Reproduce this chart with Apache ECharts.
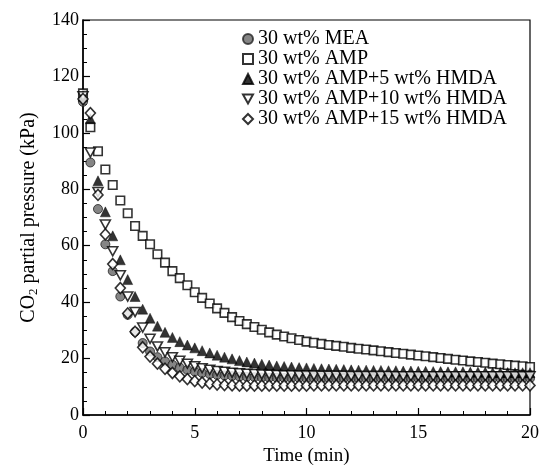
<!DOCTYPE html>
<html><head><meta charset="utf-8">
<script src="https://cdn.jsdelivr.net/npm/echarts/dist/echarts.min.js"></script>
<style>html,body{margin:0;padding:0;background:#fff}#c{width:550px;height:476px}</style>
</head><body><div id="c"></div>
<script>
const times = [0,0.33,0.67,1,1.33,1.67,2,2.33,2.67,3,3.33,3.67,4,4.33,4.67,5,5.33,5.67,6,6.33,6.67,7,7.33,7.67,8,8.33,8.67,9,9.33,9.67,10,10.33,10.67,11,11.33,11.67,12,12.33,12.67,13,13.33,13.67,14,14.33,14.67,15,15.33,15.67,16,16.33,16.67,17,17.33,17.67,18,18.33,18.67,19,19.33,19.67,20];
const seriesNames = ['30 wt% MEA','30 wt% AMP','30 wt% AMP+5 wt% HMDA','30 wt% AMP+10 wt% HMDA','30 wt% AMP+15 wt% HMDA'];
const mea = [111,89.5,73,60.5,51,42,35.5,29.5,25.5,22.5,20.5,19,17.8,16.8,16,15.4,14.9,14.5,14.2,14,13.8,13.6,13.5,13.4,13.3,13.2,13.2,13.1,13.1,13.1,13,13,13,13,12.9,13,13,13,12.9,13,13,13,13,12.9,13,13,13,13,12.9,13,13,13,13,12.9,13,13,13,13,12.9,13,13];
const amp = [114,102,93.5,87,81.5,76,71.5,67,63.5,60.5,57,54,51,48.5,46,43.5,41.5,39.5,37.8,36.2,34.7,33.3,32.2,31.2,30.2,29.3,28.5,27.8,27.2,26.6,26,25.6,25.2,24.8,24.5,24.2,23.8,23.5,23.2,22.9,22.6,22.3,22,21.7,21.4,21.1,20.8,20.5,20.2,19.9,19.6,19.3,19,18.8,18.5,18.2,18,17.7,17.5,17.3,17];
const hmda5 = [113,105,83,72,63.5,55,48,42,37.5,34.3,31.5,29.3,27.5,26,24.8,23.8,22.8,22,21.2,20.5,19.9,19.3,18.8,18.4,18,17.7,17.4,17.2,17,16.8,16.7,16.5,16.4,16.3,16.2,16.1,16,15.9,15.9,15.8,15.8,15.7,15.7,15.6,15.6,15.5,15.5,15.4,15.4,15.3,15.3,15.3,15.2,15.2,15.2,15.1,15.1,15.1,15,15,15];
const hmda10 = [113,93,79,67.5,58,49.5,42,36.5,31,27,24.3,22.2,20.5,19.2,18.2,17.3,16.6,16,15.6,15.3,15,14.8,14.6,14.5,14.4,14.3,14.2,14.1,14.1,14,14,14,13.9,13.9,13.9,13.9,13.8,13.8,13.8,13.8,13.8,13.8,13.7,13.7,13.7,13.7,13.7,13.7,13.7,13.7,13.7,13.7,13.7,13.7,13.7,13.7,13.7,13.7,13.7,13.7,13.7];
const hmda15 = [112,107,78,64,53.5,45,36,29.5,24,20.7,18.2,16.4,14.9,13.7,12.7,12,11.5,11.1,10.8,10.6,10.5,10.4,10.4,10.4,10.4,10.4,10.4,10.4,10.4,10.4,10.4,10.5,10.5,10.5,10.5,10.5,10.5,10.5,10.5,10.5,10.5,10.5,10.5,10.5,10.5,10.5,10.5,10.5,10.5,10.5,10.5,10.5,10.5,10.5,10.5,10.5,10.5,10.5,10.5,10.5,10.5];
const xTicks = [0,5,10,15,20];
const yTicks = [0,20,40,60,80,100,120,140];

const F = '"Liberation Serif", "Times New Roman", serif';
const downTri = 'path://M0,0 L10,0 L5,9 Z';
function pts(v){ return times.map((t,i)=>[t,v[i]]); }
const hollow = {color:'#fff', borderColor:'#000', borderWidth:1.6};
const styles = [
  {symbol:'circle', size:9, itemStyle:{color:'#666', borderColor:'#222', borderWidth:1}},
  {symbol:'rect', size:8.5, itemStyle:hollow},
  {symbol:'triangle', size:10, itemStyle:{color:'#000', borderColor:'#000', borderWidth:0.5}},
  {symbol:downTri, size:[10,9], itemStyle:hollow},
  {symbol:'diamond', size:[10,11], itemStyle:hollow}
];
const data = [mea, amp, hmda5, hmda10, hmda15];
const chart = echarts.init(document.getElementById('c'));
chart.setOption({
  animation:false,
  backgroundColor:'#fff',
  grid:{left:83,right:20,top:20,bottom:61,show:true,borderColor:'#000',borderWidth:1.2,backgroundColor:'transparent'},
  legend:{
    orient:'vertical', left:237, top:24, padding:5, itemWidth:10, itemHeight:10, itemGap:0, itemTextGap:3,
    data:seriesNames,
    textStyle:{fontFamily:F, fontSize:20, color:'#000', lineHeight:18.5}
  },
  xAxis:{
    type:'value', min:0, max:20, interval:5,
    axisLine:{lineStyle:{color:'#000',width:1.5}},
    axisTick:{inside:true,length:7,lineStyle:{color:'#000',width:1.2}},
    minorTick:{show:true,splitNumber:5,length:4,lineStyle:{color:'#000',width:1}},
    splitLine:{show:false},
    axisLabel:{color:'#000',fontFamily:F,fontSize:18,margin:9,formatter:v=>xTicks.includes(v)?String(v):''},
    name:'Time (min)', nameLocation:'middle', nameGap:31,
    nameTextStyle:{fontFamily:F,fontSize:19,color:'#000'}
  },
  yAxis:{
    type:'value', min:0, max:140, interval:20,
    axisLine:{lineStyle:{color:'#000',width:1.5}},
    axisTick:{inside:true,length:7,lineStyle:{color:'#000',width:1.2}},
    minorTick:{show:true,splitNumber:4,length:4,lineStyle:{color:'#000',width:1}},
    splitLine:{show:false},
    axisLabel:{color:'#000',fontFamily:F,fontSize:18,margin:4,formatter:v=>yTicks.includes(v)?String(v):''},
    name:'CO{s|2} partial pressure (kPa)', nameLocation:'middle', nameGap:43, nameRotate:90,
    nameTextStyle:{fontFamily:F,fontSize:20,color:'#000',lineHeight:22,
      rich:{s:{fontFamily:F,fontSize:13,color:'#000',lineHeight:13,verticalAlign:'bottom'}}}
  },
  series: seriesNames.map((n,i)=>({
    name:n, type:'scatter', data:pts(data[i]),
    symbol:styles[i].symbol, symbolSize:styles[i].size,
    itemStyle:styles[i].itemStyle, z:2+i
  }))
});
</script></body></html>
